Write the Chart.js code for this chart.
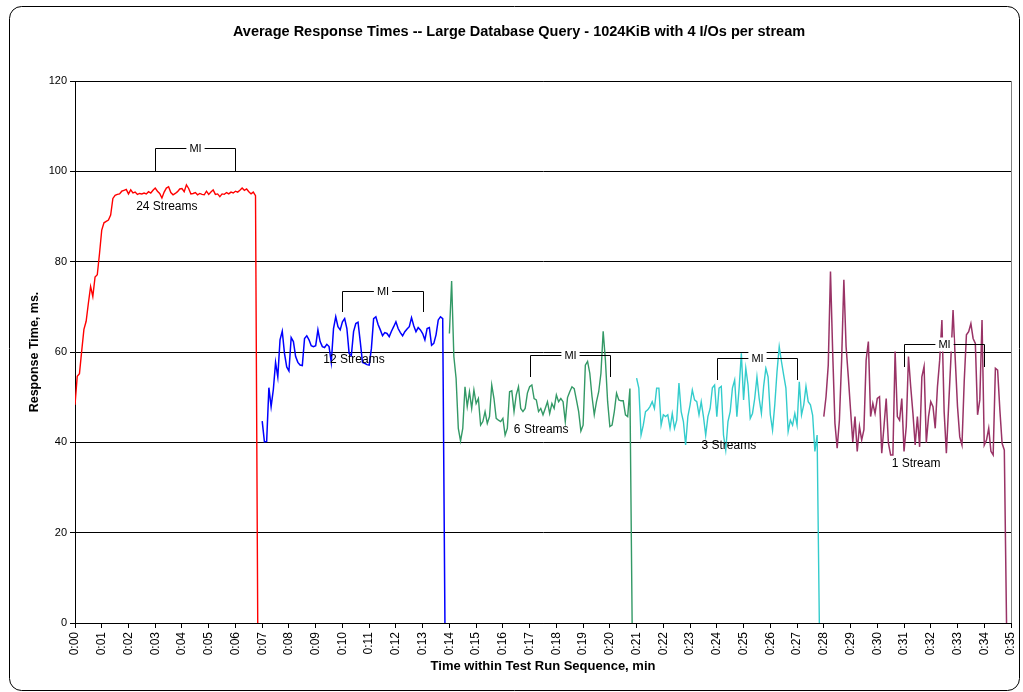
<!DOCTYPE html>
<html>
<head>
<meta charset="utf-8">
<title>Average Response Times</title>
<script src="https://cdn.jsdelivr.net/npm/chart.js@4.4.1/dist/chart.umd.min.js"></script>
<style>
  html, body { margin: 0; padding: 0; background: #fff; }
  canvas { display: block; }
</style>
</head>
<body>
<canvas id="grafico" width="1023" height="692"></canvas>
<script>
// Tick labels on the time axis (one per minute)
const tickLabels = ['0:00', '0:01', '0:02', '0:03', '0:04', '0:05', '0:06', '0:07', '0:08', '0:09',
    '0:10', '0:11', '0:12', '0:13', '0:14', '0:15', '0:16', '0:17', '0:18', '0:19',
    '0:20', '0:21', '0:22', '0:23', '0:24', '0:25', '0:26', '0:27', '0:28', '0:29',
    '0:30', '0:31', '0:32', '0:33', '0:34', '0:35'];

const seriesNames = ['24 Streams', '12 Streams', '6 Streams', '3 Streams', '1 Stream'];
const seriesStart = [0, 420, 840, 1260, 1680]; // seconds
const sampleStep = 5; // seconds between samples

// Response time, ms, one sample every 5 s
const streams24 = [48.3, 54.6, 55.2, 60.2, 65.0, 66.8, 70.8, 74.5, 72.3, 76.6,
    77.1, 81.8, 87.0, 88.6, 88.9, 89.2, 90.3, 94.0, 94.7, 94.9,
    95.0, 95.6, 95.8, 96.0, 95.0, 95.9, 95.2, 95.4, 94.9, 95.1,
    95.0, 95.2, 95.0, 95.5, 95.2, 95.8, 96.3, 95.6, 95.1, 94.1,
    95.4, 96.3, 96.6, 95.3, 94.8, 95.1, 95.5, 96.1, 96.2, 95.5,
    97.0, 96.2, 95.0, 95.1, 95.3, 94.8, 95.1, 94.9, 94.8, 95.6,
    94.9, 95.4, 95.9, 94.9, 95.0, 94.4, 95.0, 94.9, 95.3, 95.0,
    95.4, 95.2, 95.6, 95.4, 95.8, 96.3, 95.8, 96.1, 95.5, 95.0,
    95.4, 94.6, 0];
const streams12 = [44.7, 40.1, 40.2, 52.1, 47.9, 51.7, 57.7, 54.5, 62.7, 64.6,
    59.7, 56.7, 55.8, 63.2, 62.3, 59.0, 57.7, 57.1, 57.0, 63.0,
    63.6, 62.7, 61.4, 61.2, 61.4, 64.9, 62.3, 61.2, 61.0, 61.7,
    61.2, 57.7, 65.2, 67.8, 65.6, 64.9, 66.7, 67.4, 65.2, 59.7,
    59.2, 64.5, 66.3, 66.6, 62.3, 57.7, 57.5, 57.2, 57.1, 60.8,
    67.4, 67.8, 66.1, 64.9, 63.6, 64.3, 64.1, 63.4, 64.6, 65.6,
    66.7, 65.2, 64.3, 63.6, 64.5, 65.1, 65.6, 67.6, 65.8, 64.5,
    65.4, 64.9, 64.1, 62.7, 65.2, 65.4, 61.5, 61.9, 63.8, 67.1,
    67.8, 67.4, 0];
const streams6 = [64.1, 75.7, 59.0, 54.2, 43.1, 40.3, 43.1, 52.3, 47.9, 51.2,
    47.5, 51.6, 48.6, 49.7, 43.8, 44.6, 46.8, 44.2, 45.7, 52.7,
    49.7, 45.3, 44.9, 44.6, 45.3, 41.6, 43.1, 51.2, 51.4, 46.8,
    50.5, 52.3, 47.5, 46.8, 47.5, 50.9, 52.3, 52.7, 49.7, 49.4,
    46.8, 47.5, 46.1, 47.5, 49.0, 46.4, 48.6, 47.5, 50.5, 49.0,
    49.7, 49.0, 44.6, 49.9, 51.2, 52.3, 51.9, 49.4, 46.8, 42.5,
    43.8, 57.1, 57.9, 55.3, 50.1, 46.1, 49.0, 51.2, 55.3, 64.6,
    58.2, 49.0, 43.5, 43.8, 46.8, 50.9, 49.4, 49.2, 49.2, 46.1,
    45.7, 51.9, 0];
const streams3 = [54.2, 52.0, 41.6, 43.8, 46.8, 47.2, 47.9, 49.0, 47.5, 52.0,
    52.0, 43.8, 46.1, 45.7, 46.1, 43.1, 46.4, 43.1, 44.9, 53.1,
    46.8, 44.6, 39.4, 45.7, 48.3, 51.6, 49.4, 49.0, 46.1, 49.0,
    45.7, 41.6, 45.7, 47.5, 52.1, 52.7, 45.7, 52.0, 52.4, 41.6,
    38.3, 44.6, 46.8, 52.0, 53.8, 45.7, 52.0, 59.7, 49.4, 56.4,
    52.7, 45.3, 46.4, 49.7, 54.5, 49.7, 46.4, 52.4, 56.4, 54.5,
    46.1, 42.7, 48.3, 55.6, 61.2, 57.9, 54.9, 52.0, 42.4, 44.9,
    43.8, 46.4, 43.8, 53.4, 46.1, 48.3, 52.4, 49.0, 48.3, 46.0,
    38.0, 41.6, 0];
const streams1 = [45.7, 50.1, 57.1, 77.8, 59.7, 44.2, 38.7, 44.9, 58.2, 76.0,
    61.2, 54.5, 47.2, 40.1, 45.7, 38.0, 43.5, 40.5, 42.8, 58.2,
    62.3, 45.7, 48.6, 46.4, 49.7, 50.1, 37.6, 43.5, 49.7, 39.8,
    37.2, 37.2, 60.1, 45.7, 44.9, 49.7, 38.0, 43.5, 59.0, 52.3,
    46.4, 39.4, 45.7, 39.0, 54.5, 56.8, 39.9, 45.7, 49.0, 47.9,
    43.1, 52.3, 58.2, 67.1, 46.8, 37.6, 47.9, 58.2, 69.3, 58.2,
    47.9, 41.2, 39.4, 53.4, 63.8, 64.5, 66.3, 63.0, 61.9, 46.1,
    49.4, 67.1, 39.4, 40.5, 43.1, 38.0, 37.2, 56.4, 56.0, 47.2,
    39.8, 38.3, 0];

// Measurement interval (MI) of each run, seconds
const miStart = [180, 600, 1020, 1440, 1860];
const miEnd = [360, 780, 1200, 1620, 2040];

const titulo = 'Average Response Times -- Large Database Query - 1024KiB with 4 I/Os per stream';
const fonte = '"Liberation Sans", Arial, sans-serif';
const cores = ['#FF0000', '#0000FF', '#339966', '#33CCCC', '#993366'];
const espessuras = [1.4, 1.5, 1.4, 1.4, 1.5];

// Bracket heights and run label anchors, in axis units
const miLow = [100, 68.8, 54.5, 53.8, 56.7];
const miHigh = [105.2, 73.5, 59.3, 58.6, 61.8];
const rotuloX = [206, 626, 1046, 1467, 1887];
const rotuloY = [92.1, 58.2, 42.9, 39.2, 35.3];

// Monta os pontos {x, y} de uma série a partir do início e do passo
function pontos(valores, inicio) {
    return valores.map((v, i) => ({ x: inicio + i * sampleStep, y: v }));
}

const todasSeries = [streams24, streams12, streams6, streams3, streams1];

// Moldura arredondada e borda da área do gráfico
const moldura = {
    id: 'moldura',
    beforeDraw(chart) {
        const ctx = chart.ctx;
        const area = chart.chartArea;
        ctx.save();
        ctx.fillStyle = '#fff';
        ctx.fillRect(0, 0, chart.width, chart.height);
        ctx.beginPath();
        ctx.roundRect(9.5, 6.5, 1010, 684, 12);
        ctx.strokeStyle = '#000';
        ctx.lineWidth = 1;
        ctx.stroke();
        ctx.strokeStyle = '#808080';
        ctx.strokeRect(Math.round(area.left) + 0.5, Math.round(area.top) + 0.5,
            Math.round(area.right - area.left), Math.round(area.bottom - area.top));
        ctx.restore();
    },
    afterDraw(chart) {
        // título, um pouco à direita do centro da tela
        const ctx = chart.ctx;
        ctx.save();
        ctx.font = 'bold 14.5px ' + fonte;
        ctx.fillStyle = '#000';
        ctx.textAlign = 'center';
        ctx.textBaseline = 'middle';
        ctx.fillText(titulo, 519, 32);
        ctx.restore();
    }
};

// Colchetes "MI" e nomes das execuções
const anotacoes = {
    id: 'anotacoes',
    afterDatasetsDraw(chart) {
        const ctx = chart.ctx;
        const x = chart.scales.x;
        const y = chart.scales.y;
        ctx.save();
        ctx.font = '11px ' + fonte;
        ctx.textBaseline = 'middle';
        ctx.textAlign = 'center';
        ctx.lineWidth = 1;
        ctx.strokeStyle = '#000';
        for (let i = 0; i < miStart.length; i++) {
            const x0 = Math.round(x.getPixelForValue(miStart[i])) + 0.5;
            const x1 = Math.round(x.getPixelForValue(miEnd[i])) + 0.5;
            const yb = Math.round(y.getPixelForValue(miLow[i]));
            const yt = Math.round(y.getPixelForValue(miHigh[i])) + 0.5;
            ctx.beginPath();
            ctx.moveTo(x0, yb);
            ctx.lineTo(x0, yt);
            ctx.lineTo(x1, yt);
            ctx.lineTo(x1, yb);
            ctx.stroke();
            const meio = (x0 + x1) / 2;
            const w = ctx.measureText('MI').width + 6;
            ctx.fillStyle = '#fff';
            ctx.fillRect(meio - w / 2, yt - 7, w, 14);
            ctx.fillStyle = '#000';
            ctx.fillText('MI', meio, yt);
        }
        ctx.font = '12px ' + fonte;
        for (let i = 0; i < seriesNames.length; i++) {
            ctx.fillText(seriesNames[i], x.getPixelForValue(rotuloX[i]), y.getPixelForValue(rotuloY[i]));
        }
        ctx.restore();
    }
};

new Chart(document.getElementById('grafico').getContext('2d'), {
    type: 'line',
    data: {
        datasets: todasSeries.map((serie, i) => ({
            label: seriesNames[i],
            data: pontos(serie, seriesStart[i]),
            borderColor: cores[i],
            borderWidth: espessuras[i],
            pointRadius: 0,
            fill: false,
            tension: 0,
        }))
    },
    options: {
        responsive: false,
        animation: false,
        devicePixelRatio: 1,
        layout: {
            padding: { left: 10, right: 12, top: 81, bottom: 10 }
        },
        plugins: {
            legend: { display: false },
            tooltip: { enabled: false },
            title: { display: false }
        },
        scales: {
            x: {
                type: 'linear',
                min: 0,
                max: 2100,
                border: { color: '#000', width: 1 },
                grid: { drawOnChartArea: false, drawTicks: true, tickLength: 5, color: '#000' },
                ticks: {
                    stepSize: 60,
                    autoSkip: false,
                    minRotation: 90,
                    maxRotation: 90,
                    padding: 4,
                    color: '#000',
                    font: { family: fonte, size: 12 },
                    callback: (v) => tickLabels[Math.round(v / 60)]
                },
                title: {
                    display: true,
                    text: 'Time within Test Run Sequence, min',
                    color: '#000',
                    font: { family: fonte, size: 13, weight: 'bold' },
                    padding: { top: 0, bottom: 8 }
                },
                afterFit: (scale) => {
                    scale.height = 59;
                    scale.paddingLeft = 0;
                    scale.paddingRight = 0;
                }
            },
            y: {
                min: 0,
                max: 120,
                border: { color: '#000', width: 1 },
                grid: { color: '#000', lineWidth: 1, tickLength: 5, tickColor: '#000' },
                ticks: {
                    stepSize: 20,
                    padding: 3,
                    color: '#000',
                    font: { family: fonte, size: 11 }
                },
                title: {
                    display: true,
                    text: 'Response Time, ms.',
                    color: '#000',
                    font: { family: fonte, size: 12.5, weight: 'bold' },
                    padding: { top: 17, bottom: 0 }
                },
                afterFit: (scale) => {
                    scale.width = 65;
                    scale.paddingTop = 0;
                }
            }
        }
    },
    plugins: [moldura, anotacoes]
});
</script>
</body>
</html>
